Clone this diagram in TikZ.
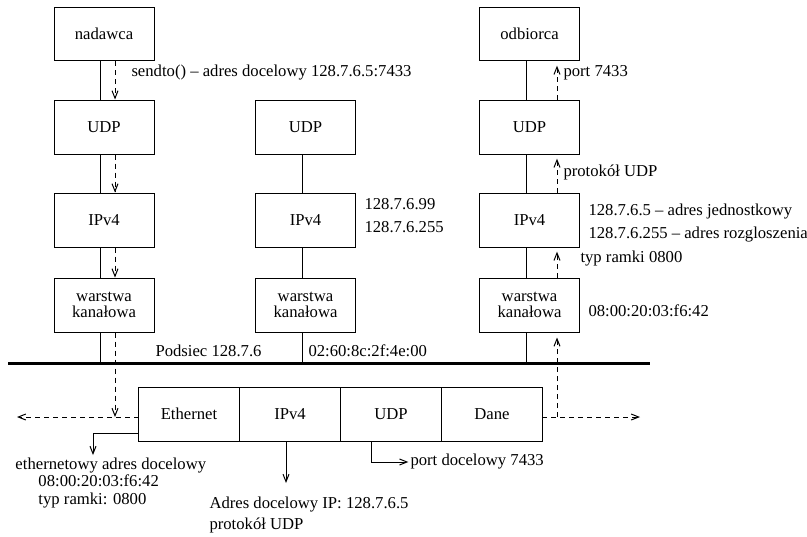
\documentclass[tikz,border=0pt]{standalone}
\usepackage{fontspec}
\setmainfont{Liberation Serif}
\usetikzlibrary{arrows.meta,positioning}

\begin{document}
\begin{tikzpicture}[x=0.6pt,y=-0.6pt,line width=0.6pt,
    >={Straight Barb[length=4.5pt,width=3.6pt]},
    layer/.style={draw, minimum width=60pt, minimum height=32.4pt, align=center},
    cell/.style={draw, minimum width=60.6pt, minimum height=32.4pt, outer sep=0pt},
    flow/.style={->, dash pattern=on 3pt off 2.4pt},
    note/.style={anchor=west, inner sep=0pt, align=left}]
  \useasboundingbox (0,0) rectangle (807,537);

  % sender
  \node[layer] (nadawca) at (104,34) {nadawca};
  \node[layer] (udpA) at (104,127) {UDP};
  \node[layer] (ipA) at (104,220) {IPv4};
  \node[layer] (linkA) at (104,305) {warstwa\\[-2.4pt]kanałowa};
  % other host
  \node[layer] (udpB) at (305.5,127) {UDP};
  \node[layer] (ipB) at (305.5,220) {IPv4};
  \node[layer] (linkB) at (305.5,305) {warstwa\\[-2.4pt]kanałowa};
  % receiver
  \node[layer] (odbiorca) at (529.5,34) {odbiorca};
  \node[layer] (udpC) at (529.5,127) {UDP};
  \node[layer] (ipC) at (529.5,220) {IPv4};
  \node[layer] (linkC) at (529.5,305) {warstwa\\[-2.4pt]kanałowa};

  % frame
  \node[cell] (eth) at (189,414) {Ethernet};
  \node[cell, right=0pt of eth] (ipF) {IPv4};
  \node[cell, right=0pt of ipF] (udpF) {UDP};
  \node[cell, right=0pt of udpF] (dane) {Dane};

  \coordinate (colA) at (100,0);
  \coordinate (colB) at (302,0);
  \coordinate (colC) at (526,0);
  \coordinate (dA) at (115,0);
  \coordinate (dC) at (557,0);
  \coordinate (busL) at (8,363);
  \coordinate (busR) at (650,363);
  \coordinate (flowY) at (0,417);
  \coordinate (leftEnd) at (17,0);
  \coordinate (rightEnd) at (640,0);

  % bus
  \draw[line width=1.8pt] (busL) -- (busR);

  % stacks
  \draw (nadawca.south -| colA) -- (udpA.north -| colA)
        (udpA.south -| colA) -- (ipA.north -| colA)
        (ipA.south -| colA) -- (linkA.north -| colA)
        (linkA.south -| colA) -- (busL -| colA);
  \draw (udpB.south -| colB) -- (ipB.north -| colB)
        (ipB.south -| colB) -- (linkB.north -| colB)
        (linkB.south -| colB) -- (busL -| colB);
  \draw (odbiorca.south -| colC) -- (udpC.north -| colC)
        (udpC.south -| colC) -- (ipC.north -| colC)
        (ipC.south -| colC) -- (linkC.north -| colC)
        (linkC.south -| colC) -- (busL -| colC);

  % data path down
  \draw[flow] (nadawca.south -| dA) -- (udpA.north -| dA);
  \draw[flow] (udpA.south -| dA) -- (ipA.north -| dA);
  \draw[flow] (ipA.south -| dA) -- (linkA.north -| dA);
  \draw[flow] (linkA.south -| dA) -- (flowY -| dA);
  \draw[flow] (eth.west |- flowY) -- (leftEnd |- flowY);
  % data path up
  \draw[flow] (dane.east |- flowY) -- (rightEnd |- flowY);
  \draw[flow, shorten >=3pt] (flowY -| dC) -- (linkC.south -| dC);
  \draw[flow, shorten >=2.5pt] (linkC.north -| dC) -- (ipC.south -| dC);
  \draw[flow, shorten >=2.5pt] (ipC.north -| dC) -- (udpC.south -| dC);
  \draw[flow, shorten >=2.5pt] (udpC.north -| dC) -- (odbiorca.south -| dC);

  % labels
  \node[note] (sendInfo) at (131,73) {sendto() -- adres docelowy 128.7.6.5:7433};
  \node[note] (portRecv) at (563,73) {port 7433};
  \node[note] (protoRecv) at (563,172) {protokół UDP};
  \node[note] (addrB) at (364,215.5) {128.7.6.99\\[1.8pt]128.7.6.255};
  \node[note] (addrC) at (588,223.5) {128.7.6.5 -- adres jednostkowy\\[1.8pt]128.7.6.255 -- adres rozgloszenia};
  \node[note] (typeRecv) at (580,259) {typ ramki 0800};
  \node[note] (macC) at (588,311) {08:00:20:03:f6:42};
  \node[note] (subnet) at (155,351) {Podsiec 128.7.6};
  \node[note] (macB) at (308,351) {02:60:8c:2f:4e:00};
  \node[note] (ethInfo) at (15,483) {ethernetowy adres docelowy\\[-1.6pt]\hspace*{13.8pt}08:00:20:03:f6:42\\[-1.6pt]\hspace*{13.8pt}typ ramki: 0800};
  \node[note] (ipInfo) at (209,515) {Adres docelowy IP: 128.7.6.5\\[0.6pt]protokół UDP};
  \node[note] (portInfo) at (410,462) {port docelowy 7433};

  \coordinate (ethTip) at (93,455);
  \coordinate (ipTip) at (286,483);
  \coordinate (udpTap) at (371,0);
  \draw[->] ([yshift=4.8pt]eth.south west) -| (ethTip);
  \draw[->] (ipF.south -| ipTip) -- (ipTip);
  \draw[->] (udpF.south -| udpTap) |- ([xshift=-1pt]portInfo.west);
\end{tikzpicture}
\end{document}
